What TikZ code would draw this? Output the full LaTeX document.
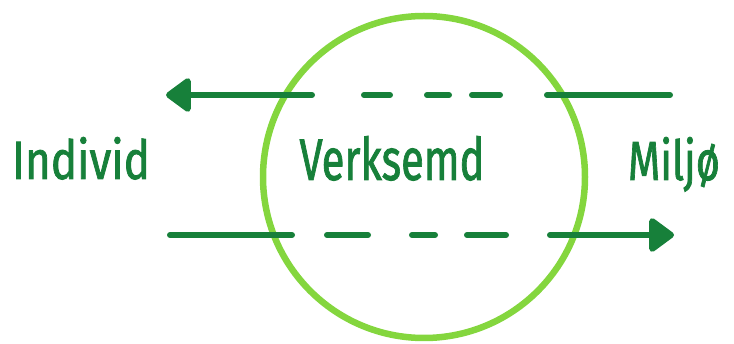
\documentclass[tikz,border=0pt]{standalone}
\usepackage{fontspec}
\setmainfont{Fira Sans}
\newfontfamily\lblfont[FakeBold=1.6]{Fira Sans}
\usetikzlibrary{arrows.meta}
\definecolor{dgreen}{HTML}{17803A}
\definecolor{lgreen}{HTML}{84D63E}
\tikzset{
  flow/.style={draw=dgreen, line width=6pt, line cap=round},
  tip/.style={-{Triangle[length=27pt,width=38pt,round]}},
  lbl/.style={text=dgreen, inner sep=0pt, font=\lblfont\fontsize{50}{50}\selectfont},
}
\begin{document}
\begin{tikzpicture}[x=1pt,y=-1pt]
\useasboundingbox (0,0) rectangle (734,344);
% circle
\node[draw=lgreen, line width=6.5pt, circle, minimum size=322pt, inner sep=0pt] (circ) at (424,177) {};
% labels
\node[lbl, anchor=base] (ind) at (81,179) {\resizebox{138pt}{42pt}{Individ}};
\node[lbl, anchor=base] (verk) at (392,180) {\resizebox{185pt}{44pt}{Verksemd}};
\node[lbl, anchor=base] (milj) at (674,180) {\resizebox{92pt}{43pt}{Miljø}};
% top arrow (right to left)
\coordinate (tA) at (670,95);
\coordinate (tB) at (547,95);
\coordinate (tC) at (500,95);
\coordinate (tD) at (472,95);
\coordinate (tE) at (449,95);
\coordinate (tF) at (427,95);
\coordinate (tG) at (390,95);
\coordinate (tH) at (364,95);
\coordinate (tI) at (312,95);
\coordinate (tJ) at (170,95);
\draw[flow] (tA) -- (tB);
\draw[flow] (tC) -- (tD);
\draw[flow] (tE) -- (tF);
\draw[flow] (tG) -- (tH);
\draw[flow, tip, shorten >=-4pt] (tI) -- (tJ);
% bottom arrow (left to right)
\coordinate (bA) at (170,235);
\coordinate (bB) at (292,235);
\coordinate (bC) at (327,235);
\coordinate (bD) at (368,235);
\coordinate (bE) at (412,235);
\coordinate (bF) at (435,235);
\coordinate (bG) at (467,235);
\coordinate (bH) at (506,235);
\coordinate (bI) at (550,235);
\coordinate (bJ) at (670,235);
\draw[flow] (bA) -- (bB);
\draw[flow] (bC) -- (bD);
\draw[flow] (bE) -- (bF);
\draw[flow] (bG) -- (bH);
\draw[flow, tip, shorten >=-4pt] (bI) -- (bJ);
\end{tikzpicture}
\end{document}
